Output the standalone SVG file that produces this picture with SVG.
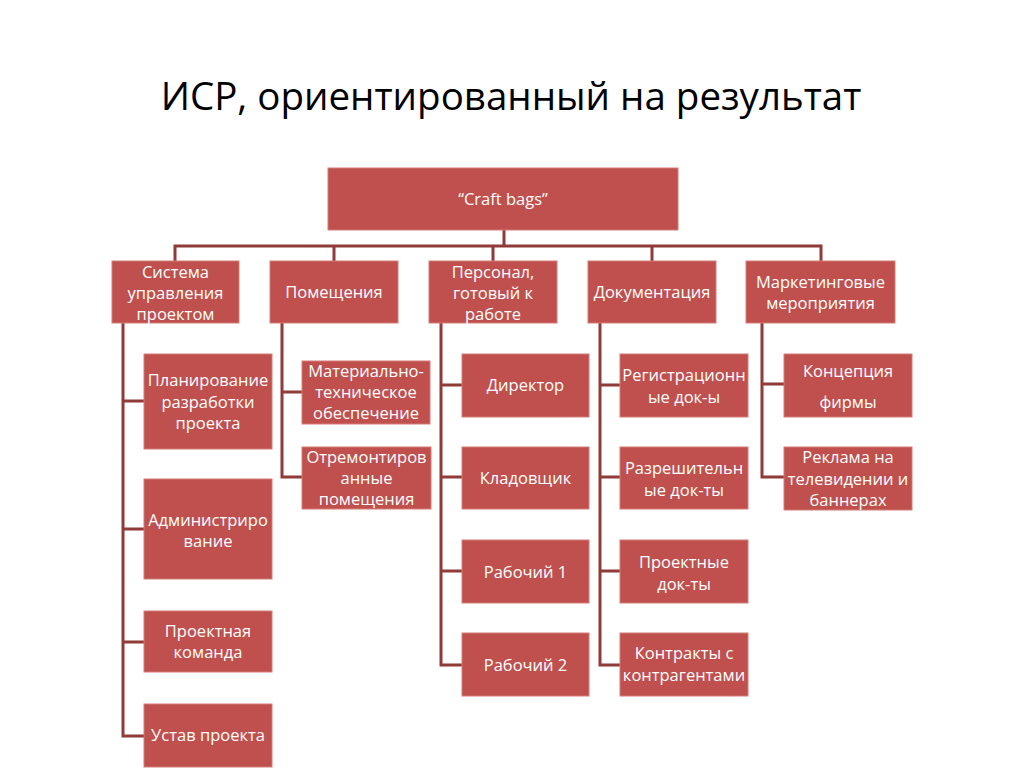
<svg xmlns="http://www.w3.org/2000/svg" width="1024" height="768" viewBox="0 0 1024 768">
<style>
.bg{fill:#ffffff}
.box{fill:#C0504D;stroke:#D27C79;stroke-width:1}
.t{font-family:"Open Sans","Liberation Sans",sans-serif;font-size:16.5px;fill:#ffffff;text-anchor:middle}
.title{font-family:"Open Sans","Liberation Sans",sans-serif;font-size:38.5px;fill:#000000;text-anchor:middle}
.c{fill:none;stroke:#8E3B39;stroke-width:3}
</style>
<rect class="bg" x="0" y="0" width="1024" height="768"/>
<text class="title" x="511" y="110">ИСР, ориентированный на результат</text>
<g id="connectors">
<path class="c" d="M504 230 V246 M175 261 V246 H821 V261 M334 246 V261 M493 246 V261 M652 246 V261"/>
<path class="c" d="M123 323 V736 H144 M123 401 H144 M123 529 H144 M123 642 H144"/>
<path class="c" d="M282 323 V477 H302 M282 392 H302"/>
<path class="c" d="M441 323 V665 H462 M441 385 H462 M441 477 H462 M441 571 H462"/>
<path class="c" d="M600 323 V665 H620 M600 385 H620 M600 477 H620 M600 571 H620"/>
<path class="c" d="M762 323 V477 H784 M762 384 H784"/>
</g>
<g id="root"><rect class="box" x="328" y="168" width="350" height="62"/><text class="t" x="503" y="205">“Craft bags”</text></g>
<g id="n1"><rect class="box" x="112" y="261" width="127" height="62"/><text class="t" x="175.5"><tspan x="175.5" y="278">Система</tspan><tspan x="175.5" y="299">управления</tspan><tspan x="175.5" y="320">проектом</tspan></text></g>
<g id="n2"><rect class="box" x="270" y="261" width="128" height="62"/><text class="t" x="334" y="298">Помещения</text></g>
<g id="n3"><rect class="box" x="429" y="261" width="128" height="62"/><text class="t"><tspan x="493" y="278">Персонал,</tspan><tspan x="493" y="299">готовый к</tspan><tspan x="493" y="320">работе</tspan></text></g>
<g id="n4"><rect class="box" x="588" y="261" width="128" height="62"/><text class="t" x="652" y="298">Документация</text></g>
<g id="n5"><rect class="box" x="746" y="261" width="149" height="62"/><text class="t"><tspan x="820.5" y="288">Маркетинговые</tspan><tspan x="820.5" y="309">мероприятия</tspan></text></g>
<g id="a1"><rect class="box" x="144" y="354" width="128" height="95"/><text class="t"><tspan x="208" y="386">Планирование</tspan><tspan x="208" y="408">разработки</tspan><tspan x="208" y="429">проекта</tspan></text></g>
<g id="a2"><rect class="box" x="144" y="479" width="128" height="100"/><text class="t"><tspan x="208" y="526">Администриро</tspan><tspan x="208" y="547">вание</tspan></text></g>
<g id="a3"><rect class="box" x="144" y="611" width="128" height="61"/><text class="t"><tspan x="208" y="637">Проектная</tspan><tspan x="208" y="658">команда</tspan></text></g>
<g id="a4"><rect class="box" x="144" y="704" width="128" height="63"/><text class="t" x="208" y="741">Устав проекта</text></g>
<g id="b1"><rect class="box" x="302" y="361" width="128" height="63"/><text class="t"><tspan x="366" y="377">Материально-</tspan><tspan x="366" y="398">техническое</tspan><tspan x="366" y="419">обеспечение</tspan></text></g>
<g id="b2"><rect class="box" x="302" y="447" width="129" height="62"/><text class="t"><tspan x="366.5" y="463">Отремонтиров</tspan><tspan x="366.5" y="484">анные</tspan><tspan x="366.5" y="505">помещения</tspan></text></g>
<g id="c1"><rect class="box" x="462" y="354" width="127" height="63"/><text class="t" x="525.5" y="391">Директор</text></g>
<g id="c2"><rect class="box" x="462" y="447" width="127" height="62"/><text class="t" x="525.5" y="484">Кладовщик</text></g>
<g id="c3"><rect class="box" x="462" y="540" width="127" height="63"/><text class="t" x="525.5" y="578">Рабочий 1</text></g>
<g id="c4"><rect class="box" x="462" y="633" width="127" height="63"/><text class="t" x="525.5" y="671">Рабочий 2</text></g>
<g id="d1"><rect class="box" x="620" y="354" width="128" height="63"/><text class="t"><tspan x="684" y="381">Регистрационн</tspan><tspan x="684" y="403">ые док-ы</tspan></text></g>
<g id="d2"><rect class="box" x="620" y="447" width="128" height="62"/><text class="t"><tspan x="684" y="474">Разрешительн</tspan><tspan x="684" y="496">ые док-ты</tspan></text></g>
<g id="d3"><rect class="box" x="620" y="540" width="128" height="63"/><text class="t"><tspan x="684" y="568">Проектные</tspan><tspan x="684" y="590">док-ты</tspan></text></g>
<g id="d4"><rect class="box" x="620" y="633" width="128" height="63"/><text class="t"><tspan x="684" y="659">Контракты с</tspan><tspan x="684" y="681">контрагентами</tspan></text></g>
<g id="e1"><rect class="box" x="784" y="354" width="128" height="63"/><text class="t"><tspan x="848" y="377">Концепция</tspan><tspan x="848" y="408">фирмы</tspan></text></g>
<g id="e2"><rect class="box" x="784" y="447" width="128" height="63"/><text class="t"><tspan x="848" y="463">Реклама на</tspan><tspan x="848" y="485">телевидении и</tspan><tspan x="848" y="506">баннерах</tspan></text></g>
</svg>
